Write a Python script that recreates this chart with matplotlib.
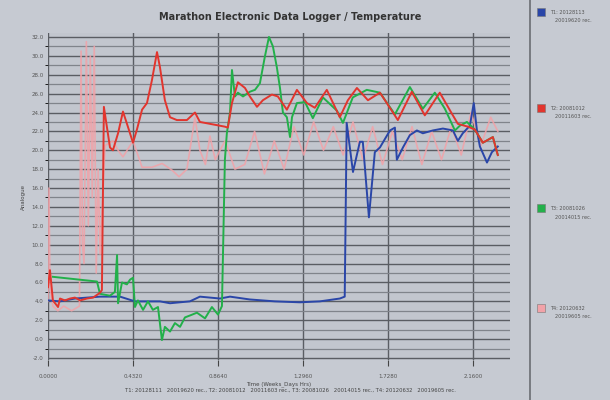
import matplotlib
matplotlib.use("Agg")
import matplotlib.pyplot as plt
from matplotlib.patches import Rectangle
from matplotlib.lines import Line2D

# time in days, temperature in deg
t1_t = [0.000, 0.061, 0.137, 0.264, 0.366, 0.442, 0.569, 0.620, 0.721, 0.772,
        0.874, 0.925, 1.026, 1.153, 1.280, 1.382, 1.483, 1.508, 1.518, 1.550,
        1.585, 1.600, 1.631, 1.661, 1.687, 1.738, 1.763, 1.773, 1.804, 1.839,
        1.875, 1.905, 1.956, 2.007, 2.058, 2.083, 2.108, 2.144, 2.164, 2.180,
        2.195, 2.231, 2.256, 2.286]
t1_v = [4.1, 4.0, 4.3, 4.5, 4.5, 4.0, 4.0, 3.8, 4.0, 4.5,
        4.3, 4.5, 4.2, 4.0, 3.9, 4.0, 4.3, 4.5, 22.9, 17.7,
        20.9, 20.9, 12.9, 19.8, 20.3, 22.1, 22.4, 19.0, 20.3, 21.6,
        22.1, 21.8, 22.1, 22.3, 22.1, 21.0, 21.8, 22.6, 25.0, 22.1,
        20.4, 18.7, 19.8, 20.4]

t2_t = [0.000, 0.010, 0.025, 0.051, 0.061, 0.086, 0.112, 0.137, 0.163, 0.198,
        0.229, 0.264, 0.274, 0.279, 0.284, 0.315, 0.330, 0.356, 0.381, 0.406,
        0.432, 0.452, 0.478, 0.503, 0.528, 0.554, 0.569, 0.594, 0.620, 0.655,
        0.706, 0.747, 0.772, 0.823, 0.874, 0.899, 0.914, 0.935, 0.965, 1.001,
        1.026, 1.062, 1.092, 1.138, 1.168, 1.214, 1.265, 1.316, 1.356, 1.417,
        1.483, 1.524, 1.570, 1.626, 1.687, 1.722, 1.778, 1.849, 1.915, 1.991,
        2.052, 2.083, 2.134, 2.169, 2.210, 2.261, 2.286]
t2_v = [5.5, 7.3, 4.1, 3.4, 4.3, 4.1, 4.3, 4.4, 4.1, 4.3,
        4.4, 4.9, 5.2, 15.0, 24.6, 20.3, 20.0, 21.8, 24.1, 22.5,
        20.8, 22.2, 24.3, 25.0, 27.4, 30.4, 28.8, 25.3, 23.5, 23.2,
        23.2, 24.0, 23.0, 22.8, 22.6, 22.5, 22.4, 25.0, 27.2, 26.6,
        25.7, 24.6, 25.3, 25.9, 25.7, 24.3, 26.4, 25.0, 24.5, 26.4,
        23.5, 25.3, 26.6, 25.3, 26.1, 25.0, 23.2, 26.2, 23.7, 26.1,
        23.9, 22.8, 22.5, 22.2, 20.8, 21.4, 19.5]

t3_t = [0.025, 0.249, 0.264, 0.315, 0.340, 0.351, 0.356, 0.376, 0.401, 0.417,
        0.432, 0.442, 0.457, 0.483, 0.508, 0.533, 0.559, 0.579, 0.594, 0.620,
        0.645, 0.671, 0.696, 0.721, 0.757, 0.798, 0.833, 0.864, 0.884, 0.899,
        0.909, 0.925, 0.935, 0.950, 0.965, 0.991, 1.026, 1.052, 1.077, 1.102,
        1.123, 1.143, 1.163, 1.179, 1.194, 1.214, 1.230, 1.240, 1.265, 1.306,
        1.346, 1.397, 1.468, 1.499, 1.549, 1.620, 1.687, 1.763, 1.839, 1.905,
        1.966, 2.017, 2.068, 2.093, 2.129, 2.169, 2.210, 2.261, 2.286]
t3_v = [6.6, 6.1, 4.8, 4.6, 5.0, 8.9, 3.8, 6.0, 5.8, 6.3,
        6.5, 3.4, 4.1, 3.1, 4.0, 3.1, 3.4, -0.1, 1.3, 0.8,
        1.7, 1.3, 2.3, 2.5, 2.8, 2.2, 3.4, 2.6, 3.5, 19.0,
        21.8, 24.0, 28.5, 25.7, 26.1, 25.7, 26.2, 26.4, 27.1, 29.9,
        32.0, 31.0, 28.8, 26.6, 24.0, 23.5, 21.4, 23.5, 25.0, 25.1,
        23.4, 25.6, 24.2, 22.9, 25.6, 26.4, 26.1, 23.8, 26.7, 24.4,
        26.1, 24.4, 22.1, 22.6, 23.0, 22.2, 20.8, 21.4, 19.5]

t4_t = [0.000, 0.005, 0.010, 0.025, 0.050, 0.080, 0.120, 0.160, 0.168, 0.175,
        0.183, 0.195, 0.205, 0.215, 0.225, 0.235, 0.245, 0.255, 0.265, 0.290,
        0.330, 0.356, 0.381, 0.432, 0.478, 0.528, 0.580, 0.630, 0.666, 0.706,
        0.747, 0.772, 0.800, 0.823, 0.850, 0.874, 0.900, 0.950, 1.000, 1.050,
        1.100, 1.150, 1.200, 1.250, 1.300, 1.350, 1.400, 1.450, 1.500, 1.550,
        1.600, 1.650, 1.700, 1.750, 1.800, 1.850, 1.900, 1.950, 2.000, 2.050,
        2.100, 2.150, 2.200, 2.250, 2.286]
t4_v = [4.0, 16.0, 5.5, 3.5, 3.0, 3.5, 3.0, 3.5, 30.5, 10.0,
        8.0, 31.5, 12.0, 30.0, 15.0, 31.0, 7.0, 18.0, 9.0, 20.5,
        21.0, 20.0, 19.3, 21.0, 18.2, 18.2, 18.6, 17.9, 17.2, 18.0,
        23.5, 20.0, 18.5, 21.5, 19.0, 20.0, 21.0, 18.0, 18.5, 22.0,
        17.5, 21.0, 18.0, 22.5, 19.5, 23.0, 20.0, 22.5, 19.5, 23.0,
        19.0, 22.5, 18.5, 22.0, 19.0, 22.5, 18.5, 22.0, 19.0, 22.5,
        19.5, 24.0, 20.5, 23.5, 22.0]

xticks = [0.0, 0.432, 0.864, 1.296, 1.728, 2.160]
xlabels = ["0.0000", "0.4320", "0.8640", "1.2960", "1.7280", "2.1600"]
yticks = list(range(-2, 33, 2))

series = [
    (t4_t, t4_v, "#f2a2a8", 1.2, 0.85, "T4: 20120632", "20019605 rec."),
    (t1_t, t1_v, "#2a46a8", 1.4, 1.0, "T1: 20128113", "20019620 rec."),
    (t3_t, t3_v, "#22b04a", 1.4, 1.0, "T3: 20081026", "20014015 rec."),
    (t2_t, t2_v, "#e2352e", 1.4, 1.0, "T2: 20081012", "20011603 rec."),
]
legend_order = [1, 3, 2, 0]

bg = "#c6cad2"
fig = plt.figure(figsize=(6.1, 4.0), dpi=100, facecolor=bg)
ax = fig.add_axes([48 / 610, 40 / 400, 462 / 610, 327 / 400])
ax.set_facecolor("#c2c6ce")

for tt, vv, c, lw, a, _, _ in series:
    ax.plot(tt, vv, color=c, lw=lw, alpha=a, solid_joinstyle="round")

ax.set_xlim(0, 2.348)
ax.set_ylim(-2.21, 32.42)
ax.set_xticks(xticks)
ax.set_xticklabels(xlabels)
ax.set_yticks(yticks)
ax.set_yticklabels(["%.1f" % v for v in yticks])
ax.set_yticks(range(-1, 33, 2), minor=True)
ax.tick_params(labelsize=4, colors="#555555", length=0, pad=3)
ax.tick_params(axis="x", length=4, color="#444444", pad=6)
ax.grid(True, which="major", color="#5a5d63", lw=1.0)
ax.grid(True, which="minor", axis="y", color="#80848b", lw=0.9)
ax.set_axisbelow(True)
for s in ax.spines.values():
    s.set_visible(False)

ax.set_xlabel("Time (Weeks_Days Hrs)", fontsize=4, color="#444444", labelpad=2)
ax.set_ylabel("Analogue", fontsize=4, color="#444444", labelpad=4)

fig.text(290 / 610, 1 - 17 / 400, "Marathon Electronic Data Logger / Temperature",
         ha="center", va="center", fontsize=7, fontweight="bold", color="#333333")
fig.text(290 / 610, 1 - 390 / 400,
         "T1: 20128111   20019620 rec., T2: 20081012   20011603 rec., "
         "T3: 20081026   20014015 rec., T4: 20120632   20019605 rec.",
         ha="center", va="center", fontsize=3.8, color="#444444")

# legend panel on the right
fig.add_artist(Line2D([530 / 610, 530 / 610], [0, 1], color="#6a6d72", lw=1.2))
leg_y = [12, 108, 208, 308]
for k, i in enumerate(legend_order):
    _, _, c, _, _, l1, l2 = series[i]
    y = 1 - leg_y[k] / 400
    fig.add_artist(Rectangle((537 / 610, y - 4 / 400), 8 / 610, 8 / 400,
                             facecolor=c, edgecolor="#777777", lw=0.4))
    fig.text(550 / 610, y, l1, fontsize=3.6, color="#555555", va="center")
    fig.text(555 / 610, y - 9 / 400, l2, fontsize=3.6, color="#555555", va="center")

fig.savefig("out.png", dpi=100, facecolor=bg)
